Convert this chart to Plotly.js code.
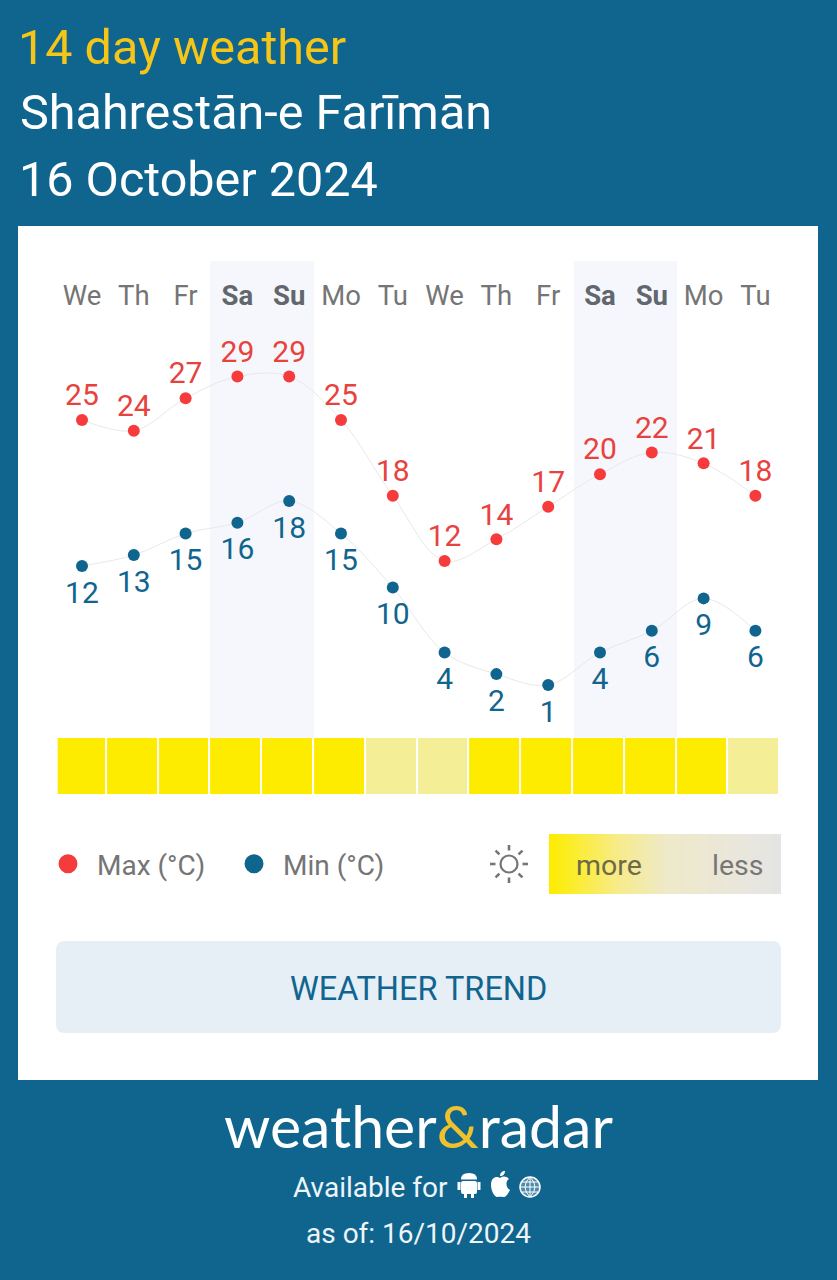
<!DOCTYPE html>
<html><head><meta charset="utf-8">
<script src="https://cdn.plot.ly/plotly-3.0.1.min.js"></script>
<style>html,body{margin:0;padding:0;background:#10658f}</style></head>
<body><div id="chart" style="width:837px;height:1280px"></div>
<script>
const days = ["We","Th","Fr","Sa","Su","Mo","Tu","We","Th","Fr","Sa","Su","Mo","Tu"];
const weekend = [0,0,0,1,1,0,0,0,0,0,1,1,0,0];
const maxTemps = [25,24,27,29,29,25,18,12,14,17,20,22,21,18];
const minTemps = [12,13,15,16,18,15,10,4,2,1,4,6,9,6];
const sunshine = [1,1,1,1,1,1,0,0,1,1,1,1,1,0];
const gradientStops = [0,1,2,3];

const W=837,H=1280;
const fx=x=>x/W, fy=y=>1-y/H;
const P=(x,y)=>fx(x).toFixed(5)+','+fy(y).toFixed(5);
const BLUE='#10658f',RED='#f53b3b',REDT='#e8423f',GREY='#757575',YEL='#feec00';
const idx=days.map((_,i)=>i);
const step=51.8,x0=82;
const xr=p=>(p-x0)/step;
const domTop=311.5,domBot=730;

function rect(a,b,c,d,fill){return {type:'rect',xref:'paper',yref:'paper',x0:fx(a),x1:fx(c),y0:fy(d),y1:fy(b),fillcolor:fill,line:{width:0},layer:'below'};}
function round(a,b,c,d,r,fill){
 return {type:'path',xref:'paper',yref:'paper',layer:'below',fillcolor:fill,line:{width:0},
 path:`M${P(a+r,b)} L${P(c-r,b)} Q${P(c,b)} ${P(c,b+r)} L${P(c,d-r)} Q${P(c,d)} ${P(c-r,d)} L${P(a+r,d)} Q${P(a,d)} ${P(a,d-r)} L${P(a,b+r)} Q${P(a,b)} ${P(a+r,b)} Z`};
}
function pathShape(path,fill,lc,lw){return {type:'path',xref:'paper',yref:'paper',layer:'above',path,fillcolor:fill||'rgba(0,0,0,0)',line:{color:lc||'rgba(0,0,0,0)',width:lw||0}};}
function circle(cx,cy,r,fill,lc,lw){return {type:'circle',xref:'paper',yref:'paper',layer:'above',x0:fx(cx-r),x1:fx(cx+r),y0:fy(cy+r),y1:fy(cy-r),fillcolor:fill||'rgba(0,0,0,0)',line:{color:lc||'rgba(0,0,0,0)',width:lw||0}};}
function seg(a,b,c,d,col,w){return {type:'line',xref:'paper',yref:'paper',layer:'above',x0:fx(a),x1:fx(c),y0:fy(b),y1:fy(d),line:{color:col,width:w}};}

const shapes=[rect(18,226,818,1080,'#ffffff'),
 {type:'rect',xref:'x',yref:'paper',x0:xr(210),x1:xr(314),y0:fy(738),y1:fy(261),fillcolor:'#f5f7fc',line:{width:0},layer:'below'},
 {type:'rect',xref:'x',yref:'paper',x0:xr(574),x1:xr(677),y0:fy(738),y1:fy(261),fillcolor:'#f5f7fc',line:{width:0},layer:'below'},
 round(56,941,781,1033,9,'#e6eef6')];
// sun icon
shapes.push(circle(509,864,8.5,null,'#757575',2.2));
for(let k=0;k<8;k++){const a=k*Math.PI/4,c=Math.cos(a),s=Math.sin(a);
 shapes.push(seg(509+c*13.5,864+s*13.5,509+c*19,864+s*19,'#757575',2.6));}
// android
shapes.push(round(461,1181,477,1194,2,'#ffffff')); shapes[shapes.length-1].layer='above';
shapes.push(pathShape(`M${P(461,1179.5)} Q${P(461,1173)} ${P(469,1173)} Q${P(477,1173)} ${P(477,1179.5)} Z`,'#ffffff'));
shapes.push(seg(459,1182,459,1190,'#ffffff',3),seg(479,1182,479,1190,'#ffffff',3),seg(465.5,1193,465.5,1198,'#ffffff',3),seg(472.5,1193,472.5,1198,'#ffffff',3));
// apple
shapes.push(pathShape(`M${P(500,1178)} C${P(497,1176)} ${P(491,1177)} ${P(491,1185)} C${P(491,1191)} ${P(495,1198)} ${P(498,1197)} C${P(499,1196.5)} ${P(501,1196.5)} ${P(503,1197)} C${P(506,1198)} ${P(509,1192)} ${P(510,1190)} C${P(506,1188)} ${P(505,1181)} ${P(509,1179)} C${P(506,1176)} ${P(503,1176)} ${P(500,1178)} Z`,'#ffffff'));
shapes.push(pathShape(`M${P(500,1176)} C${P(500,1173)} ${P(502,1171)} ${P(505,1171)} C${P(505,1174)} ${P(503,1176)} ${P(500,1176)} Z`,'#ffffff'));
// globe
shapes.push(circle(530,1187,10,'rgba(255,255,255,0.25)','#ffffff',1.5));
shapes.push(seg(520,1187,540,1187,'#ffffff',1),seg(530,1177,530,1197,'#ffffff',1),seg(522,1182,538,1182,'#ffffff',1),seg(522,1192,538,1192,'#ffffff',1));
shapes.push(pathShape(`M${P(530,1177)} Q${P(520,1187)} ${P(530,1197)} Q${P(540,1187)} ${P(530,1177)} Z`,null,'#ffffff',1));

function note(text,x,y,size,color,anchor,extra){return Object.assign({text,xref:'paper',yref:'paper',x:fx(x),y:fy(y),xanchor:anchor||'center',yanchor:'middle',showarrow:false,font:{family:'Roboto',size,color}},extra||{});}

const annotations=[
 note('Shahrestān-e Farīmān',18,113,48.5,'#ffffff','left'),
 note('16 October 2024',17,179,48.5,'#ffffff','left'),
 note('more',609,865,28.5,'#6e6a45'),
 note('less',737,865,28.5,'#777777'),
 note('WEATHER TREND',418.5,989,32.5,BLUE),
 note('weather<span style="color:#efc12c">&amp;</span>radar',418,1125,59,'#ffffff','center',{font:{family:'Lato',size:59,color:'#ffffff'}}),
 note('Available for',370,1187,28,'#eef5f8'),
 note('as of: 16/10/2024',418.5,1233,28,'#eef5f8'),
];

const txt=(v)=>v.map(String);
const lbl=(name,y,ya,pos,col,size)=>({type:'scatter',mode:'markers+text',name,x:idx,y,yaxis:ya,text:txt(y),textposition:pos,
  textfont:{family:'Roboto',size:30,color:col},marker:{size,opacity:0},cliponaxis:false,showlegend:false,hoverinfo:'skip'});
const dots=(name,y,ya,col)=>({type:'scatter',mode:'markers',name,x:idx,y,yaxis:ya,marker:{color:col,size:12},showlegend:false,cliponaxis:false});
const key=(name,col)=>({type:'scatter',mode:'markers',name,x:[null],y:[null],marker:{color:col,size:16,line:{width:3,color:col}},hoverinfo:'skip'});
const data=[
 {type:'scatter',mode:'lines',x:idx,y:maxTemps,yaxis:'y',line:{shape:'spline',smoothing:1,color:'#e8e8e8',width:1},showlegend:false,hoverinfo:'skip'},
 {type:'scatter',mode:'lines',x:idx,y:minTemps,yaxis:'y2',line:{shape:'spline',smoothing:1,color:'#e8e8e8',width:1},showlegend:false,hoverinfo:'skip'},
 lbl('Max labels',maxTemps,'y','top center',REDT,10),
 lbl('Min labels',minTemps,'y2','bottom center',BLUE,21),
 dots('Max',maxTemps,'y',RED),
 dots('Min',minTemps,'y2',BLUE),
 key('Max (°C)',RED),
 key('Min (°C)',BLUE),
 {type:'heatmap',x:idx,y:['sun'],z:[sunshine],xaxis:'x3',yaxis:'y3',zmin:0,zmax:1,colorscale:[[0,'#f4ef97'],[1,YEL]],showscale:false,xgap:2,hoverinfo:'skip'},
 {type:'heatmap',x:gradientStops,y:[0,1],z:[gradientStops,gradientStops],xaxis:'x2',yaxis:'y4',zsmooth:'best',zmin:0,zmax:3,showscale:false,hoverinfo:'skip',
  colorscale:[[0,YEL],[0.1,'#fbed2a'],[0.3,'#f7eb8c'],[0.5,'#eee9c8'],[0.75,'#ebe7d8'],[1,'#e4e4e4']]}
];

const layout={width:W,height:H,margin:{l:0,r:0,t:0,b:0},paper_bgcolor:BLUE,plot_bgcolor:'rgba(0,0,0,0)',
 font:{family:'Roboto'},
 title:{text:'14 day weather',x:fx(18),xanchor:'left',xref:'paper',y:fy(47),yanchor:'middle',yref:'paper',font:{family:'Roboto',size:48.5,color:'#f5c518'},pad:{t:0,b:0,l:0,r:0}},
 xaxis:{domain:[fx(57.7),fx(779)],range:[xr(57.7),xr(779)],side:'top',anchor:'y',tickmode:'array',tickvals:idx,
  ticktext:days.map((d,i)=>weekend[i]?`<b style="color:#62666d">${d}</b>`:d),tickfont:{family:'Roboto',size:27.5,color:GREY},
  showgrid:false,zeroline:false,showline:false,ticklen:0,fixedrange:true},
 yaxis:{domain:[fy(domBot),fy(domTop)],range:[29-(domBot-376.5)/10.85,29+(376.5-domTop)/10.85],visible:false,fixedrange:true},
 yaxis2:{domain:[fy(domBot),fy(domTop)],range:[18-(domBot-501)/10.82,18+(501-domTop)/10.82],overlaying:'y',visible:false,fixedrange:true},
 xaxis3:{domain:[fx(57.7),fx(780)],range:[xr(57.7)+0.04,xr(780)+0.04],anchor:'y3',visible:false,fixedrange:true},
 yaxis3:{domain:[fy(794),fy(738)],anchor:'x3',visible:false,fixedrange:true},
 xaxis2:{domain:[fx(549),fx(781)],range:[0,3],anchor:'y4',visible:false,fixedrange:true},
 yaxis4:{domain:[fy(894),fy(834)],range:[0,1],anchor:'x2',visible:false,fixedrange:true},
 legend:{orientation:'h',x:fx(39),y:fy(864),xanchor:'left',yanchor:'middle',font:{family:'Roboto',size:28,color:GREY},bgcolor:'rgba(0,0,0,0)',itemwidth:48,itemsizing:'trimmed',entrywidth:123,entrywidthmode:'pixels',traceorder:'normal',itemclick:false,itemdoubleclick:false},
 shapes,annotations};
Plotly.newPlot('chart',data,layout,{displayModeBar:false,responsive:false});
</script></body></html>
